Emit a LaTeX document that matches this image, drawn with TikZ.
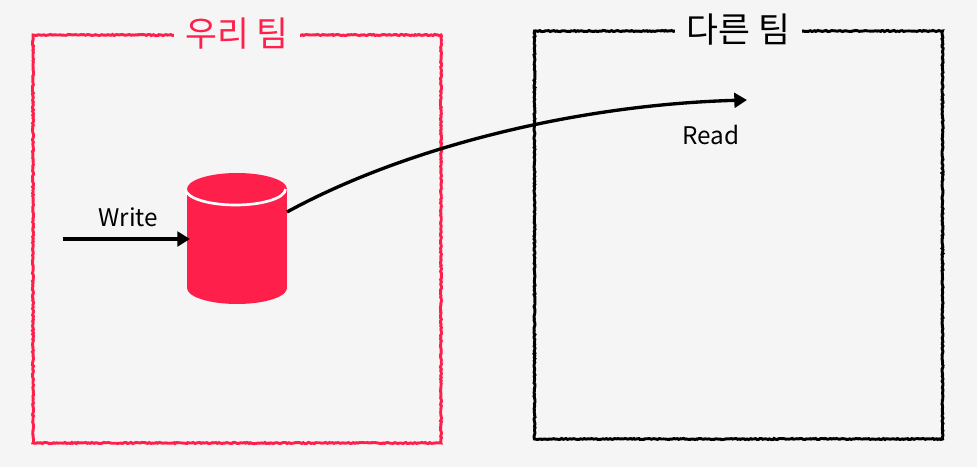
\documentclass[tikz,border=0pt]{standalone}
\usepackage{fontspec}
\setmainfont{Noto Sans CJK KR}
\usepackage{xcolor}
\usetikzlibrary{shapes.geometric,decorations.pathmorphing,arrows.meta}
\definecolor{bggray}{HTML}{F5F5F5}
\definecolor{teamred}{HTML}{FF1F4B}

\begin{document}
\begin{tikzpicture}[x=0.75pt,y=-0.75pt, line width=2.2pt,
  team/.style = {draw, minimum width=306pt, minimum height=306pt, decorate, decoration={random steps,segment length=1.2pt,amplitude=0.42pt}},
  title/.style = {fill=bggray, font=\fontsize{26}{30}\selectfont, inner sep=0pt, minimum width=95pt, minimum height=30pt},
  lbl/.style = {font=\fontsize{18.2}{22}\selectfont, inner sep=0pt},
  dbbody/.style = {fill=teamred, minimum width=75pt, minimum height=74.25pt, inner sep=0pt},
  dbcap/.style = {ellipse, fill=teamred, minimum width=75pt, minimum height=24pt, inner sep=0pt},
  flow/.style = {-{Triangle[length=9.5pt,width=11pt]}, line width=2.5pt}]
\path[use as bounding box, fill=bggray] (0,0) rectangle (977,467);
\node[team, draw=teamred] (ours) at (237,239) {};
\node[team, draw=black] (others) at (738.5,235) {};
\node[title, text=teamred] (oursname) at (ours.north) {우리 팀};
\node[title] (othersname) at (others.north) {다른 팀};
% the store: a body and two caps
\node[dbcap] (dbbase) at (237,288) {};
\node[dbbody] (db) at (237,238.5) {};
\node[dbcap] (dbtop) at (237,189) {};
\draw[white, line width=2pt] (dbtop.west) arc[start angle=180, end angle=360, x radius=37.5pt, y radius=12pt];
\coordinate (writestart) at (63,239);
\coordinate (writeend) at (190,239);
\coordinate (dbout) at (287,212);
\coordinate (readend) at (747,100);
\draw[flow] (writestart) -- node[lbl, pos=0.515, above=7.8pt] (writename) {Write} (writeend);
\draw[flow] (dbout) .. controls (400,150) and (570,105) .. (readend);
\node[lbl] (readname) at (711,135) {Read};
\end{tikzpicture}
\end{document}
